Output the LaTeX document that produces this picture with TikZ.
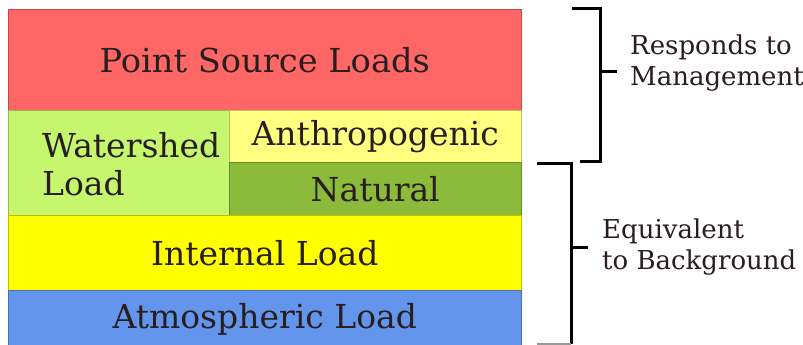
\documentclass[tikz,border=0pt]{standalone}
\usepackage{fontspec}
\usepackage{graphicx}
\setmainfont{DejaVu Serif}
\definecolor{cRed}{RGB}{255,102,102}
\definecolor{cLime}{RGB}{198,245,110}
\definecolor{cPale}{RGB}{255,255,128}
\definecolor{cOlive}{RGB}{140,186,58}
\definecolor{cYel}{RGB}{255,255,0}
\definecolor{cBlue}{RGB}{100,149,237}
\definecolor{txt}{RGB}{40,30,30}
\tikzset{
  box/.style={fill=#1, draw=#1!75!black, line width=0.5pt, inner sep=0pt, anchor=north west, text=txt,
    font=\fontsize{33}{38}\selectfont},
  side/.style={anchor=base west, align=left, text=txt, inner sep=0pt, font=\fontsize{26}{31}\selectfont},
  brk/.style={line width=3pt, black}
}
\begin{document}
\begin{tikzpicture}[x=1pt,y=-1pt]
\useasboundingbox (0,0) rectangle (803,345);
\node[box=cRed, minimum width=513pt, minimum height=101pt] (ps) at (8,9) {\raisebox{-3pt}{\scalebox{1.02}[1]{Point Source Loads}}};
\node[box=cLime, minimum width=221pt, minimum height=105pt] (ws) at (8,110) {};
\node[anchor=base west, align=left, text=txt, inner sep=0pt, font=\fontsize{33}{38}\selectfont] (wst) at (42,195) {Watershed\\Load};
\node[box=cPale, minimum width=292pt, minimum height=52pt] (an) at (229,110) {Anthropogenic};
\node[box=cOlive, minimum width=292pt, minimum height=53pt] (na) at (229,162) {\raisebox{-2pt}{Natural}};
\node[box=cYel, minimum width=513pt, minimum height=75pt] (il) at (8,215) {Internal Load};
\node[box=cBlue, minimum width=513pt, minimum height=58pt] (al) at (8,290) {Atmospheric Load};
% brackets
\coordinate (b1a) at (572,9);
\coordinate (b1b) at (600,9);
\coordinate (b1c) at (600,161);
\coordinate (b1d) at (580,161);
\coordinate (b1m) at (600,72);
\coordinate (b1t) at (617,72);
\draw[brk] (b1a) -- (b1b) -- (b1c) -- (b1d);
\draw[brk] (b1m) -- (b1t);
\coordinate (b2a) at (537,163);
\coordinate (b2b) at (571,163);
\coordinate (b2c) at (571,344);
\coordinate (b2d) at (537,344);
\coordinate (b2m) at (571,247);
\coordinate (b2t) at (588,247);
\draw[brk] (b2a) -- (b2b) -- (b2c);
\draw[brk, black!40, line width=1.5pt] (b2c) -- (b2d);
\draw[brk] (b2m) -- (b2t);
\node[side] (rm) at (630,85.7) {Responds to\\Management};
\node[side] (eb) at (602,269) {Equivalent\\to Background};
\end{tikzpicture}
\end{document}
